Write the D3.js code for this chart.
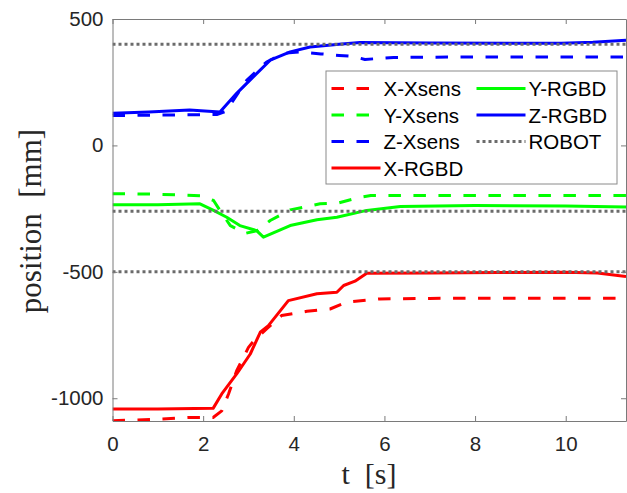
<!DOCTYPE html>
<html>
<head>
<meta charset="utf-8">
<script src="https://cdn.jsdelivr.net/npm/d3@7"></script>
<style>
  body { margin: 0; background: #fff; }
  svg text { font-family: "Liberation Sans", Arial, sans-serif; }
</style>
</head>
<body>
<div id="chart"></div>
<script>
var width = 627;
var height = 493;

// time (s) and position (mm)
var xXsensT = [0, 0.9, 1.7, 2.22, 2.41, 2.56, 2.74, 3.0, 3.15, 3.4, 3.73, 4.29, 4.8, 5.17, 5.9, 7.0, 8.5, 10.0, 11.33];
var xXsensV = [-1089, -1084, -1076, -1076, -1050, -983, -891, -799, -766, -726, -673, -656, -647, -620, -607, -605, -604, -604, -604];

var yXsensT = [0, 1.0, 1.93, 2.23, 2.37, 2.6, 2.93, 3.19, 3.48, 3.92, 4.58, 5.0, 5.46, 5.7, 7.0, 9.0, 11.33];
var yXsensV = [-191, -193, -199, -218, -257, -317, -348, -337, -297, -255, -231, -227, -205, -198, -198, -198, -198];

var zXsensT = [0, 1.0, 2.3, 2.5, 2.96, 3.4, 3.77, 4.14, 4.6, 5.0, 5.3, 5.57, 6.2, 8.0, 10.0, 11.33];
var zXsensV = [118, 120, 122, 135, 257, 330, 364, 370, 362, 356, 352, 340, 348, 350, 350, 350];

var xRgbdT = [0, 1.0, 2.22, 2.41, 2.74, 3.04, 3.26, 3.44, 3.88, 4.51, 4.95, 5.1, 5.35, 5.61, 7.0, 8.5, 10.0, 10.7, 11.33];
var xRgbdV = [-1043, -1043, -1040, -983, -904, -825, -739, -713, -614, -587, -581, -554, -537, -506, -505, -503, -502, -505, -519];

var yRgbdT = [0, 1.0, 1.93, 2.23, 2.52, 2.81, 3.18, 3.33, 3.92, 4.51, 4.95, 5.61, 6.35, 8.0, 10.0, 11.33];
var yRgbdV = [-235, -235, -231, -257, -284, -317, -337, -363, -317, -294, -284, -257, -242, -238, -240, -244];

var zRgbdT = [0, 0.8, 1.7, 2.37, 2.74, 3.1, 3.48, 3.92, 4.36, 5.0, 5.46, 7.0, 9.0, 9.9, 10.6, 11.33];
var zRgbdV = [127, 132, 140, 132, 206, 270, 337, 370, 389, 400, 407, 405, 404, 404, 408, 416];

var robotLevels = [400, -260, -500];
var robotT = [0, 11.33];

var xTicks = [0, 2, 4, 6, 8, 10];
var yTicks = [500, 0, -500, -1000];

var seriesNames = ["X-Xsens", "Y-Xsens", "Z-Xsens", "X-RGBD", "Y-RGBD", "Z-RGBD", "ROBOT"];

var plotL = 112.5, plotR = 626, plotT = 19, plotB = 421;

var x = d3.scaleLinear().domain([0, 11.33]).range([plotL, plotR]);
var y = d3.scaleLinear().domain([-1090, 500]).range([plotB, plotT]);

var svg = d3.select("#chart")
            .append("svg")
            .attr("width", width)
            .attr("height", height);

svg.append("defs").append("clipPath")
   .attr("id", "plotclip")
   .append("rect")
   .attr("x", plotL).attr("y", plotT)
   .attr("width", plotR - plotL).attr("height", plotB - plotT);

var line = d3.line()
    .x(function(d){ return x(d[0]); })
    .y(function(d){ return y(d[1]); });

function pairs(ts, vs){
    return ts.map(function(t, i){ return [t, vs[i]]; });
}

var dashed = "12.5,12.5";
var dotted = "3,3";
var grey = "#6b6b6b";

var series = [
    {t: xXsensT, v: xXsensV, color: "#ff0000", dash: dashed},
    {t: yXsensT, v: yXsensV, color: "#00ff00", dash: dashed},
    {t: zXsensT, v: zXsensV, color: "#0000ff", dash: dashed},
    {t: xRgbdT, v: xRgbdV, color: "#ff0000", dash: null},
    {t: yRgbdT, v: yRgbdV, color: "#00ff00", dash: null},
    {t: zRgbdT, v: zRgbdV, color: "#0000ff", dash: null}
];

var plot_g = svg.append("g").attr("clip-path", "url(#plotclip)");

series.forEach(function(s){
    plot_g.append("path")
        .attr("d", line(pairs(s.t, s.v)))
        .attr("fill", "none")
        .attr("stroke", s.color)
        .attr("stroke-width", 3)
        .attr("stroke-linejoin", "round")
        .attr("stroke-dasharray", s.dash);
});

robotLevels.forEach(function(lv){
    plot_g.append("path")
        .attr("d", line(robotT.map(function(t){ return [t, lv]; })))
        .attr("fill", "none")
        .attr("stroke", grey)
        .attr("stroke-width", 3)
        .attr("stroke-dasharray", dotted);
});

// axes box, ticks point inwards like matlab
var axisColor = "#7a7a7a";
var plain = function(d){ return String(d); };

svg.append("g")
   .attr("transform", "translate(0," + plotB + ")")
   .call(d3.axisBottom(x).tickValues(xTicks).tickFormat(plain).tickSizeInner(-5).tickSizeOuter(0).tickPadding(15));
svg.append("g")
   .attr("transform", "translate(0," + plotT + ")")
   .call(d3.axisTop(x).tickValues(xTicks).tickSizeInner(-5).tickSizeOuter(0).tickFormat(""));
svg.append("g")
   .attr("transform", "translate(" + plotL + ",0)")
   .call(d3.axisLeft(y).tickValues(yTicks).tickFormat(plain).tickSizeInner(-5).tickSizeOuter(0).tickPadding(9));
svg.append("g")
   .attr("transform", "translate(" + plotR + ",0)")
   .call(d3.axisRight(y).tickValues(yTicks).tickSizeInner(-5).tickSizeOuter(0).tickFormat(""));

svg.selectAll(".domain").attr("stroke", axisColor);
svg.selectAll(".tick line").attr("stroke", axisColor);
svg.selectAll(".tick text")
   .attr("fill", "#262626")
   .style("font-size", "20.5px")
   .style("font-family", "'Liberation Sans', Arial, sans-serif");

// axis titles
svg.append("text")
   .attr("x", 369)
   .attr("y", 484)
   .attr("text-anchor", "middle")
   .style("font-family", "'Liberation Serif', 'Times New Roman', serif")
   .style("font-size", "30px")
   .style("white-space", "pre")
   .attr("fill", "#262626")
   .text("t  [s]");

svg.append("text")
   .attr("transform", "translate(41,221) rotate(-90)")
   .attr("text-anchor", "middle")
   .style("font-family", "'Liberation Serif', 'Times New Roman', serif")
   .style("font-size", "31px")
   .style("white-space", "pre")
   .attr("fill", "#262626")
   .text("position  [mm]");

// legend
var legend_g = svg.append("g");
legend_g.append("rect")
   .attr("x", 326).attr("y", 71)
   .attr("width", 291).attr("height", 113)
   .attr("fill", "#ffffff")
   .attr("stroke", "#8a8a8a")
   .attr("stroke-width", 1);

var legendItems = [
    {name: seriesNames[0], color: "#ff0000", dash: dashed, col: 0, row: 0},
    {name: seriesNames[1], color: "#00ff00", dash: dashed, col: 0, row: 1},
    {name: seriesNames[2], color: "#0000ff", dash: dashed, col: 0, row: 2},
    {name: seriesNames[3], color: "#ff0000", dash: null, col: 0, row: 3},
    {name: seriesNames[4], color: "#00ff00", dash: null, col: 1, row: 0},
    {name: seriesNames[5], color: "#0000ff", dash: null, col: 1, row: 1},
    {name: seriesNames[6], color: grey, dash: dotted, col: 1, row: 2}
];

var colX = [331.5, 476.5];
var rowY = [88.5, 115, 141.5, 168];

legendItems.forEach(function(d){
    var lx = colX[d.col], ly = rowY[d.row];
    legend_g.append("line")
        .attr("x1", lx).attr("x2", lx + 49)
        .attr("y1", ly).attr("y2", ly)
        .attr("stroke", d.color)
        .attr("stroke-width", 3)
        .attr("stroke-dasharray", d.dash);
    legend_g.append("text")
        .attr("x", lx + 52)
        .attr("y", ly + 7.5)
        .attr("fill", "#000")
        .style("font-size", "20.5px")
        .text(d.name);
});
</script>
</body>
</html>
